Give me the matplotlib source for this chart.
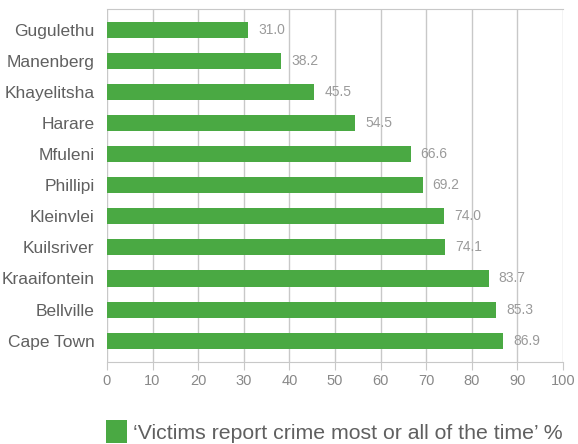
import matplotlib.pyplot as plt
from matplotlib.patches import Patch

# Data
areas = ['Gugulethu', 'Manenberg', 'Khayelitsha', 'Harare', 'Mfuleni', 'Phillipi',
         'Kleinvlei', 'Kuilsriver', 'Kraaifontein', 'Bellville', 'Cape Town']
values = [31.0, 38.2, 45.5, 54.5, 66.6, 69.2, 74.0, 74.1, 83.7, 85.3, 86.9]
legend_label = '\u2018Victims report crime most or all of the time\u2019 %'

green = '#4aa943'
grid_col = '#c8c8c8'

plt.rcParams['font.family'] = ['Liberation Sans', 'DejaVu Sans']

fig = plt.figure(figsize=(5.78, 4.44), dpi=100)
ax = fig.add_axes([0.185, 0.1847, 0.789, 0.7943])

ypos = list(range(len(areas)))
ax.barh(ypos, values, height=0.52, color=green, zorder=3)
ax.set_ylim(10.685, -0.656)
ax.set_xlim(0, 100)
ax.set_xticks(range(0, 101, 10))
ax.set_yticks(ypos)
ax.set_yticklabels(areas, fontsize=12.5, color='#606060')
ax.tick_params(axis='y', length=0, pad=9)
ax.tick_params(axis='x', length=6, color=grid_col, labelsize=10.5, labelcolor='#888888', pad=3)

ax.grid(axis='x', color=grid_col, linewidth=1, zorder=0)
for s in ['left', 'right']:
    ax.spines[s].set_visible(False)
ax.spines['top'].set_color(grid_col)
ax.spines['bottom'].set_color(grid_col)

for y, v in zip(ypos, values):
    ax.text(v + 2.2, y, f'{v:.1f}', va='center', ha='left', fontsize=10,
            color='#9a9a9a')

handles = [Patch(facecolor=green, edgecolor='none', label=legend_label)]
fig.legend(handles=handles, loc='center left', bbox_to_anchor=(0.183, 0.028),
           frameon=False, borderpad=0, borderaxespad=0, handlelength=1.0, handleheight=1.35,
           handletextpad=0.3, labelcolor='#606060', prop={'size': 15.3})

fig.savefig('out.png', dpi=100)
